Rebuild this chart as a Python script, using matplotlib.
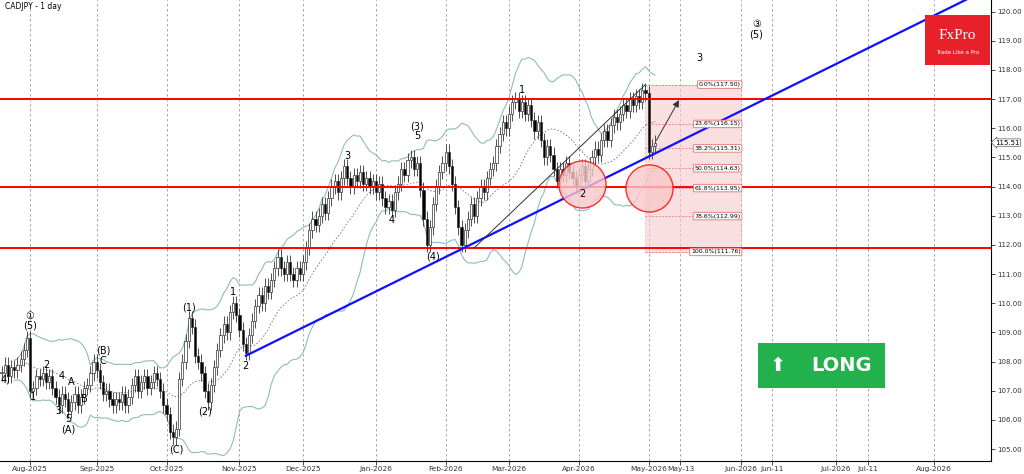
import numpy as np
import pandas as pd
import matplotlib
matplotlib.use("Agg")
import matplotlib.pyplot as plt
from matplotlib.patches import Rectangle

closes = [
    107.6, 107.9, 107.5, 107.8, 107.7,
    107.9, 108.1, 108.4, 108.8, 107.0,
    107.1, 107.5, 107.4, 107.6, 107.3,
    107.5, 107.1, 106.8, 106.5, 106.9,
    106.7, 106.3, 106.6, 106.9, 106.5,
    106.8, 107.1, 107.2, 107.6, 108.0,
    107.7, 107.3, 106.9, 107.0, 106.7,
    106.5, 106.7, 106.6, 106.9, 106.5,
    106.8, 107.2, 107.5, 107.0, 107.3,
    107.5, 107.1, 107.3, 107.6, 107.4,
    107.0, 106.5, 106.2, 105.6, 105.4,
    105.7, 107.4, 108.0, 108.7, 109.5,
    109.2, 108.2, 108.0, 107.6, 107.0,
    106.6, 107.2, 107.8, 108.4, 108.9,
    109.3, 109.0, 109.7, 110.0, 109.6,
    109.1, 108.6, 108.3, 108.9, 109.4,
    109.9, 110.3, 110.0, 110.6, 110.4,
    110.8, 111.2, 111.6, 111.2, 111.0,
    111.4, 111.0, 110.8, 111.2, 111.0,
    111.4, 111.9, 112.5, 112.9, 112.7,
    113.0, 113.4, 113.1, 113.6, 114.0,
    114.2, 113.8, 114.3, 114.7, 114.3,
    114.0, 114.4, 114.2, 114.5, 114.1,
    114.3, 114.0, 114.2, 113.8, 114.1,
    113.6, 113.3, 113.5, 113.2, 113.8,
    114.1, 114.6, 114.4, 114.9, 115.0,
    114.6, 114.8, 113.9, 112.9, 112.0,
    112.6, 113.4, 114.0, 114.5, 114.8,
    115.2, 114.7, 114.1, 113.3, 112.6,
    112.0, 112.5, 112.9, 113.4, 113.0,
    113.6, 114.0, 113.8, 114.3, 114.6,
    114.8, 115.4, 115.8, 116.2, 116.0,
    116.5, 116.9, 117.0, 116.6, 116.9,
    116.5, 116.8, 116.3, 115.9, 116.2,
    115.6, 115.0, 115.4, 115.1, 114.6,
    114.2, 114.6, 114.4, 114.8, 114.5,
    114.3, 114.0, 114.4, 114.7, 114.2,
    114.6, 115.0, 115.3, 115.1, 115.6,
    115.9, 115.6, 116.1, 116.4, 116.2,
    116.5, 116.8, 116.6, 117.0, 116.8,
    117.1, 116.9, 117.3, 117.2, 115.2,
    115.4, 115.51,
]
dates = pd.bdate_range("2025-07-21", periods=len(closes))
h_levels = [117.0, 114.0, 111.9]
fib_pct = ["0.0%", "23.6%", "38.2%", "50.0%", "61.8%", "78.6%", "100.0%"]
fib_val = [117.50, 116.15, 115.31, 114.63, 113.95, 112.99, 111.76]
tick_dates = ["2025-08-01", "2025-09-01", "2025-10-01", "2025-11-01", "2025-12-01",
              "2026-01-01", "2026-02-01", "2026-03-01", "2026-04-01", "2026-05-01",
              "2026-05-13", "2026-06-01", "2026-06-11", "2026-07-01", "2026-07-11",
              "2026-08-01"]
tick_labels = ["Aug-2025", "Sep-2025", "Oct-2025", "Nov-2025", "Dec-2025", "Jan-2026",
               "Feb-2026", "Mar-2026", "Apr-2026", "May-2026", "May-13", "Jun-2026",
               "Jun-11", "Jul-2026", "Jul-11", "Aug-2026"]

c = np.array(closes)
o = np.r_[c[0], c[:-1]]
n = len(c)
last = dates[-1]


def xpos(d):
    d = pd.Timestamp(d)
    if d <= last:
        return int(np.searchsorted(dates, d))
    return n - 1 + (d - last).days


fig = plt.figure(figsize=(10.24, 4.74), dpi=100)
ax = fig.add_axes([0.0, 0.028, 0.968, 0.972])
ax.set_xlim(-0.5, xpos("2026-08-19"))
ax.set_ylim(104.6, 120.4)

xt = [xpos(d) for d in tick_dates]
for x in xt:
    ax.axvline(x, color="#999999", ls=(0, (3, 3)), lw=0.6, zorder=0)
ax.set_xticks(xt)
ax.set_xticklabels(tick_labels, fontsize=5.3, color="#333333")
ax.yaxis.tick_right()
ax.set_yticks(np.arange(105, 121, 1.0))
ax.set_yticklabels([f"{v:.2f}" for v in np.arange(105, 121, 1.0)], fontsize=5, color="#333333")
ax.tick_params(length=3, width=0.5, pad=1)
for s in ["top", "left"]:
    ax.spines[s].set_visible(False)

# bollinger bands
s = pd.Series(c)
mid = s.rolling(20, min_periods=5).mean()
sd = s.rolling(20, min_periods=5).std()
idx = np.arange(n)
ax.plot(idx, mid + 2.2 * sd, color="#8fbcbc", lw=0.8)
ax.plot(idx, mid - 2.2 * sd, color="#8fbcbc", lw=0.8)
ax.plot(idx, mid, color="#777777", lw=0.6, ls=(0, (2, 2)))

# candles
for i in range(n):
    hi = max(o[i], c[i]) + 0.25
    lo = min(o[i], c[i]) - 0.25
    ax.vlines(i, lo, hi, color="#333333", lw=0.6)
    fc = "white" if c[i] >= o[i] else "black"
    ax.add_patch(Rectangle((i - 0.35, min(o[i], c[i])), 0.7, max(abs(c[i] - o[i]), 0.03),
                           fc=fc, ec="#333333", lw=0.5, zorder=3))

for lv in h_levels:
    ax.axhline(lv, color="#ff0000", lw=1.4, zorder=4)

# trend line
x0, y0 = xpos("2025-11-05"), 108.2
x1, y1 = xpos("2026-04-02"), 113.9
sl = (y1 - y0) / (x1 - x0)
xe = ax.get_xlim()[1] + 5
ax.plot([x0, xe], [y0, y0 + sl * (xe - x0)], color="#1010ff", lw=1.6, zorder=5)
ax.plot([xpos("2026-02-13"), xpos("2026-04-30")], [111.9, 117.5], color="#333333", lw=0.7, zorder=5)

# fib box
fx0, fx1 = xpos("2026-04-30"), xpos("2026-06-01")
ax.add_patch(Rectangle((fx0, fib_val[-1]), fx1 - fx0, fib_val[0] - fib_val[-1],
                       fc="#f5caca", ec="#f0a0a0", ls="--", lw=0.6, alpha=0.6, zorder=1))
for p, v in zip(fib_pct, fib_val):
    ax.plot([fx0, fx1], [v, v], color="#e07070", ls=(0, (2, 2)), lw=0.6, zorder=2)
    ax.text(fx1, v, f"{p}({v:.2f})", fontsize=4.5, ha="right", va="center", zorder=6,
            bbox=dict(boxstyle="round,pad=0.2", fc="white", ec="#e07070", lw=0.6))

ax.scatter([xpos("2026-04-02"), xpos("2026-05-01")], [114.1, 113.95], s=1150,
           facecolor="#f8c8c8", edgecolor="#ff0000", lw=1.0, alpha=0.8, zorder=6)
ax.annotate("", xy=(xpos("2026-05-13"), 117.05), xytext=(n - 1, 115.5),
            arrowprops=dict(arrowstyle="-|>", color="#333333", lw=0.7), zorder=7)

labels = [
    ("2025-08-01", 109.4, "①\n(5)"), ("2025-08-04", 106.8, "1"), ("2025-08-08", 107.9, "2"),
    ("2025-08-14", 106.3, "3"), ("2025-08-15", 107.5, "4"), ("2025-08-20", 107.3, "A"),
    ("2025-08-19", 105.85, "5\n(A)"), ("2025-08-26", 106.7, "B"), ("2025-09-03", 108.2, "(B)\nC"),
    ("2025-10-06", 105.0, "(C)"), ("2025-10-10", 109.85, "(1)"), ("2025-10-17", 106.3, "(2)"),
    ("2025-10-30", 110.4, "1"), ("2025-11-05", 107.85, "2"), ("2025-12-19", 115.05, "3"),
    ("2026-01-08", 112.85, "4"), ("2026-01-20", 115.9, "(3)\n5"), ("2026-01-27", 111.6, "(4)"),
    ("2026-03-06", 117.3, "1"), ("2026-04-02", 113.75, "2"), ("2026-05-19", 118.4, "3"),
    ("2026-06-06", 119.4, "③\n(5)"),
]
for d, y, t in labels:
    ax.text(xpos(d), y, t, fontsize=7, ha="center", va="center", linespacing=1.0, zorder=8)
ax.text(-0.4, 107.4, "4)", fontsize=7, va="center")

ax.text(0.005, 0.995, "CADJPY - 1 day", transform=ax.transAxes, fontsize=5.5, va="top")
ax.text(1.004, (115.51 - 104.6) / 15.8, "115.51", transform=ax.transAxes, fontsize=5,
        va="center", bbox=dict(boxstyle="larrow,pad=0.1", fc="white", ec="#555555", lw=0.5))

# logo
fig.patches.append(Rectangle((0.903, 0.862), 0.064, 0.106, transform=fig.transFigure,
                             fc="#e8202a", ec="none"))
fig.text(0.935, 0.925, "FxPro", color="white", fontsize=11, ha="center", va="center",
         family="Liberation Serif")
fig.text(0.935, 0.89, "Trade Like a Pro", color="white", fontsize=4, ha="center", va="center")

# LONG badge
fig.patches.append(Rectangle((0.740, 0.182), 0.124, 0.095, transform=fig.transFigure,
                             fc="#22b14c", ec="none"))
fig.text(0.822, 0.229, "LONG", color="white", fontsize=14, weight="bold", ha="center", va="center")
fig.text(0.760, 0.229, "⬆", color="white", fontsize=14, ha="center", va="center")

fig.savefig("out.png", dpi=100)
